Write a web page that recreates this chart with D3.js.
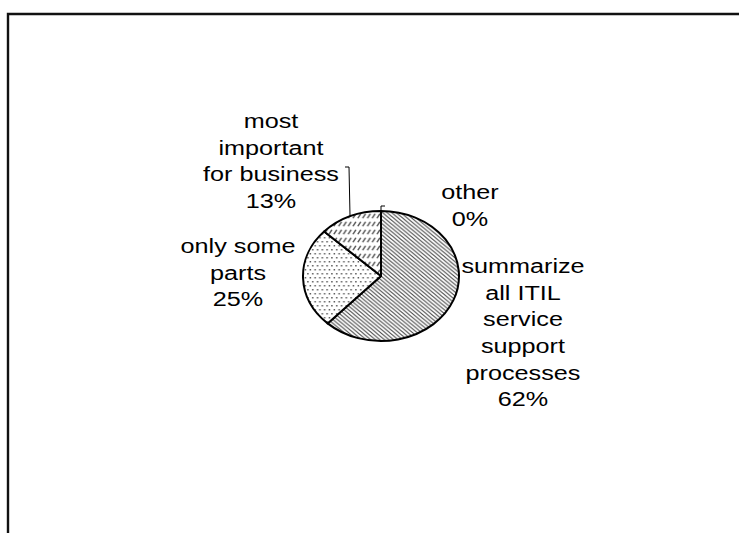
<!DOCTYPE html>
<html>
<head>
<meta charset="utf-8">
<script src="https://cdn.jsdelivr.net/npm/d3@7"></script>
<style>
  html, body { margin: 0; padding: 0; background: #fff; }
  svg { display: block; }
  .lbl { font-family: Arial, "Liberation Sans", sans-serif; font-size: 21px; fill: #000; }
</style>
</head>
<body>
<svg id="chart" width="739" height="533"></svg>
<script>
// Survey answers: what should the tool cover
const categories = [
  ["summarize", "all ITIL", "service", "support", "processes"],
  ["only some", "parts"],
  ["most", "important", "for business"],
  ["other"]
];
const values = [62, 25, 13, 0];
const valueLabels = ["62%", "25%", "13%", "0%"];
const patternIds = ["hatch", "dots", "dashes", "none"];

const W = 739, H = 533;
const svg = d3.select("#chart");

// Pie geometry: a circle stretched horizontally into an ellipse
const cx = 381, cy = 276, r = 65, sx = 1.2;

const defs = svg.append("defs");
// diagonal hatching
const hw = 3.8;
const p1 = defs.append("pattern").attr("id", "hatch").attr("patternUnits", "userSpaceOnUse")
  .attr("width", hw).attr("height", hw);
p1.append("rect").attr("width", hw).attr("height", hw).attr("fill", "#fff");
p1.append("path").attr("d", `M-1,-1 L${hw + 1},${hw + 1} M-1,${hw - 1} L1,${hw + 1} M${hw - 1},-1 L${hw + 1},1`)
  .attr("stroke", "#4a4a4a").attr("stroke-width", 0.95);
// dotted fill
const p2 = defs.append("pattern").attr("id", "dots").attr("patternUnits", "userSpaceOnUse")
  .attr("width", 4).attr("height", 8);
p2.append("rect").attr("width", 4).attr("height", 8).attr("fill", "#fff");
p2.append("rect").attr("x", 0.5).attr("y", 1).attr("width", 1.2).attr("height", 1.5).attr("fill", "#555");
p2.append("rect").attr("x", 2.5).attr("y", 5).attr("width", 1.2).attr("height", 1.5).attr("fill", "#555");
// short slanted dashes in rows
const p3 = defs.append("pattern").attr("id", "dashes").attr("patternUnits", "userSpaceOnUse")
  .attr("width", 4).attr("height", 8);
p3.append("rect").attr("width", 4).attr("height", 8).attr("fill", "#fff");
p3.append("path").attr("d", "M0.7,6.2 L3.1,1.8").attr("stroke", "#555").attr("stroke-width", 1.3);

// frame
svg.append("path")
  .attr("d", `M8,${H + 5} L8,14 L${W + 5},14`)
  .attr("fill", "none").attr("stroke", "#111").attr("stroke-width", 2.4);

const pie = d3.pie().sort(null).value(d => d)(values);
const arc = d3.arc().innerRadius(0).outerRadius(r);

const g = svg.append("g").attr("transform", `translate(${cx},${cy}) scale(${sx},1)`);
g.selectAll("path.slice")
  .data(pie)
  .join("path")
  .attr("class", "slice")
  .attr("d", arc)
  .attr("fill", (d, i) => patternIds[i] === "none" ? "#fff" : `url(#${patternIds[i]})`)
  .attr("stroke", "#000")
  .attr("stroke-width", 2)
  .attr("vector-effect", "non-scaling-stroke")
  .attr("stroke-linejoin", "round");

// point on the ellipse rim at a slice's mid angle
function rimPoint(d) {
  const a = (d.startAngle + d.endAngle) / 2;
  return [cx + Math.sin(a) * r * sx, cy - Math.cos(a) * r];
}

// label blocks: centre x and first baseline
const labelLayout = [
  { x: 523, y: 273 },
  { x: 238, y: 253 },
  { x: 271, y: 128 },
  { x: 470, y: 199 }
];
const lineStep = 26.7;

pie.forEach((d, i) => {
  const lines = categories[i].concat([valueLabels[i]]);
  const L = labelLayout[i];
  const t = svg.append("g")
    .attr("transform", `translate(${L.x},${L.y}) scale(${sx},1)`)
    .append("text").attr("class", "lbl").attr("text-anchor", "middle");
  lines.forEach((s, k) => {
    t.append("tspan").attr("x", 0).attr("y", k * lineStep).text(s);
  });
});

// leader lines for the small slices
const leaders = [
  { i: 2, elbow: [349, 167], end: [345, 167] },
  { i: 3, elbow: [381, 206], end: [385, 206] }
];
leaders.forEach(ld => {
  const p = rimPoint(pie[ld.i]);
  svg.append("path")
    .attr("d", `M${p[0]},${p[1]} L${ld.elbow[0]},${ld.elbow[1]} L${ld.end[0]},${ld.end[1]}`)
    .attr("fill", "none").attr("stroke", "#000").attr("stroke-width", 1);
});
</script>
</body>
</html>
